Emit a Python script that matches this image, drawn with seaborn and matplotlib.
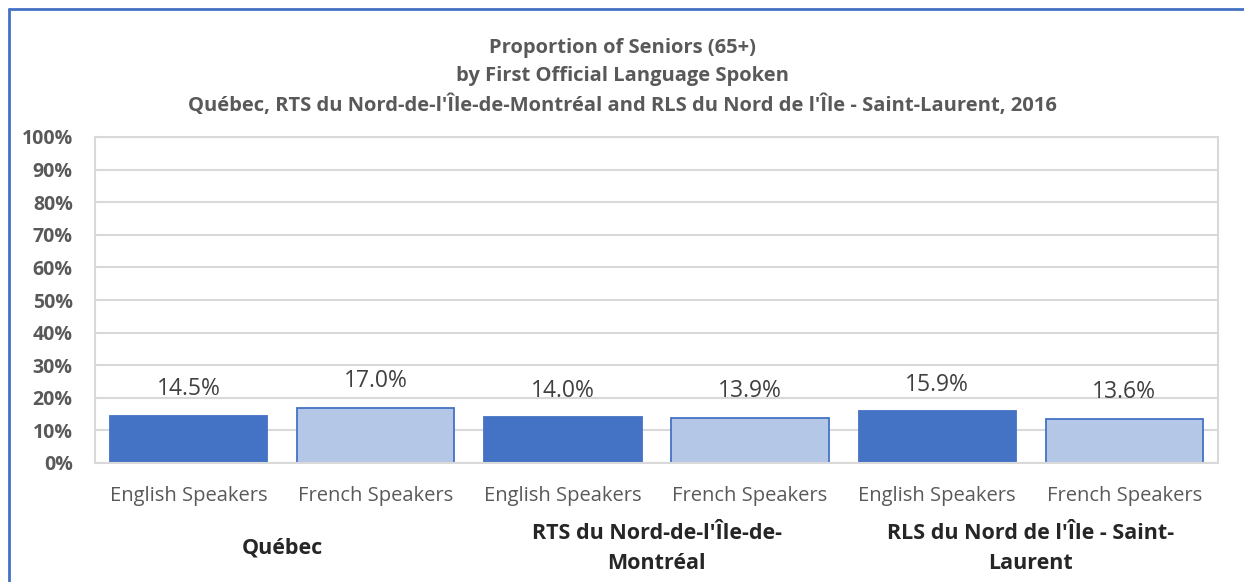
import matplotlib
matplotlib.use("Agg")
import matplotlib.pyplot as plt
import seaborn as sns
import pandas as pd
from matplotlib.lines import Line2D

regions = ["Québec", "RTS du Nord-de-l'Île-de-\nMontréal", "RLS du Nord de l'Île - Saint-\nLaurent"]
languages = ["English Speakers", "French Speakers"]
values = [14.5, 17.0, 14.0, 13.9, 15.9, 13.6]
title = ("Proportion of Seniors (65+)\nby First Official Language Spoken\n"
         "Québec, RTS du Nord-de-l'Île-de-Montréal and RLS du Nord de l'Île - Saint-Laurent, 2016")
yticks = [0, 10, 20, 30, 40, 50, 60, 70, 80, 90, 100]

rows = []
for i, r in enumerate(regions):
    for j, l in enumerate(languages):
        rows.append({"key": f"{i}-{j}", "region": r, "language": l, "value": values[i * 2 + j]})
df = pd.DataFrame(rows)

sns.set_theme(style="white")
plt.rcParams["font.family"] = ["Open Sans", "DejaVu Sans"]

fig = plt.figure(figsize=(12.44, 5.82), dpi=100)
ax = fig.add_axes([95 / 1244, 1 - 463 / 582, (1218 - 95) / 1244, (463 - 137) / 582])

palette = {"English Speakers": "#4472C4", "French Speakers": "#B4C7E7"}
sns.barplot(data=df, x="key", y="value", hue="language", palette=palette,
            dodge=False, width=0.84, ax=ax, legend=False, saturation=1)
for p in ax.patches:
    p.set_edgecolor("#4472C4")
    p.set_linewidth(1.3)

ax.set_ylim(0, 100)
ax.set_xlim(-0.5, len(values) - 0.5)
ax.set_yticks(yticks)
ax.set_yticklabels([f"{v}%" for v in yticks], fontsize=14, fontweight="bold", color="#595959")
ax.yaxis.grid(True, color="#D9D9D9", linewidth=1.5)
ax.set_axisbelow(True)
for s in ax.spines.values():
    s.set_color("#D9D9D9")
    s.set_linewidth(1.5)
ax.tick_params(axis="y", length=0, pad=16)
ax.tick_params(axis="x", length=0, pad=16.5)
ax.set_xticks(range(len(values)))
ax.set_xticklabels([languages[k % 2] for k in range(len(values))], fontsize=14.5, color="#595959")
ax.set_xlabel("")
ax.set_ylabel("")

for k, v in enumerate(values):
    ax.annotate(f"{v:.1f}%", (k, v), xytext=(0, 19), textcoords="offset points",
                ha="center", va="center", fontsize=16.5, color="#404040")

for i, r in enumerate(regions):
    ax.text(i * 2 + 0.5, -0.262, r, transform=ax.get_xaxis_transform(), ha="center", va="center",
            fontsize=15.5, fontweight="bold", color="#262626", linespacing=1.6)

fig.text(0.5, 1 - 77 / 582, title, ha="center", va="center", fontsize=14.5, fontweight="bold",
         color="#595959", linespacing=1.5)

fig.add_artist(Line2D([9 / 1244, 1], [1 - 9 / 582, 1 - 9 / 582], color="#4472C4", linewidth=2,
                      transform=fig.transFigure))
fig.add_artist(Line2D([9 / 1244, 9 / 1244], [0, 1 - 9 / 582], color="#4472C4", linewidth=2,
                      transform=fig.transFigure))

fig.savefig("out.png", dpi=100)
